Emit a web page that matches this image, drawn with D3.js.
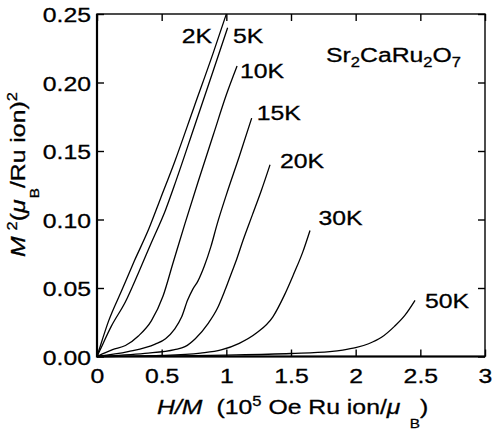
<!DOCTYPE html>
<html>
<head>
<meta charset="utf-8">
<script src="https://cdn.jsdelivr.net/npm/d3@7"></script>
<style>
  body { margin: 0; background: #fff; }
  svg { display: block; font-family: "Liberation Sans", Arial, Helvetica, sans-serif; }
  text { stroke: #000; stroke-width: 0.3px; }
</style>
</head>
<body>
<svg id="chart" width="492" height="434"></svg>
<script>
// isotherm names
const temps = ['2K', '5K', '10K', '15K', '20K', '30K', '50K'];

// H/M (10^5 Oe Ru ion/muB) and M^2 (muB/Ru ion)^2
const hm2K = [0, 0.02, 0.09, 0.19, 0.29, 0.40, 0.49, 0.60, 0.75, 0.90, 1.0];
const m2_2K = [0, 0.006, 0.026, 0.048, 0.070, 0.093, 0.115, 0.142, 0.182, 0.222, 0.25];

const hm5K = [0, 0.02, 0.11, 0.22, 0.32, 0.42, 0.53, 0.61, 0.75, 0.90, 1.01];
const m2_5K = [0, 0.004, 0.022, 0.040, 0.061, 0.083, 0.107, 0.128, 0.167, 0.209, 0.240];

const hm10K = [0, 0.12, 0.22, 0.32, 0.42, 0.51, 0.59, 0.68, 0.78, 0.90, 1.0, 1.083];
const m2_10K = [0, 0.005, 0.008, 0.015, 0.026, 0.044, 0.069, 0.097, 0.127, 0.162, 0.191, 0.212];

const hm15K = [0, 0.24, 0.45, 0.53, 0.60, 0.655, 0.70, 0.74, 0.78, 0.83, 0.88, 0.93, 1.0, 1.1, 1.196];
const m2_15K = [0, 0.0035, 0.009, 0.013, 0.020, 0.029, 0.041, 0.049, 0.055, 0.066, 0.080, 0.097, 0.118, 0.146, 0.174];

const hm20K = [0, 0.37, 0.60, 0.68, 0.76, 0.86, 0.93, 0.99, 1.04, 1.08, 1.13, 1.2, 1.27, 1.338];
const m2_20K = [0, 0.0023, 0.005, 0.0072, 0.013, 0.0242, 0.035, 0.0485, 0.061, 0.071, 0.085, 0.103, 0.121, 0.140];

const hm30K = [0, 0.5, 0.8, 0.96, 1.1, 1.23, 1.36, 1.45, 1.52, 1.59, 1.647];
const m2_30K = [0, 0.0008, 0.0025, 0.0048, 0.0096, 0.0169, 0.029, 0.045, 0.060, 0.076, 0.092];

const hm50K = [0, 0.5, 1.0, 1.5, 1.8, 1.9, 2.0, 2.1, 2.2, 2.3, 2.38, 2.459];
const m2_50K = [0, 0.0003, 0.001, 0.0022, 0.0036, 0.0047, 0.0064, 0.0093, 0.0140, 0.0220, 0.030, 0.041];

const xTicks = [0, 0.5, 1, 1.5, 2, 2.5, 3];
const yTicks = [0, 0.05, 0.10, 0.15, 0.20, 0.25];

const hmSeries = [hm2K, hm5K, hm10K, hm15K, hm20K, hm30K, hm50K];
const m2Series = [m2_2K, m2_5K, m2_10K, m2_15K, m2_20K, m2_30K, m2_50K];

(function () {
  'use strict';

  const svg = d3.select('#chart');
  const left = 97, right = 485, top = 14, bottom = 356.5;
  const sx = 1.18; // the type in the figure is set wide

  const x = d3.scaleLinear().domain([0, 3]).range([left, right]);
  const y = d3.scaleLinear().domain([0, 0.25]).range([bottom, top]);

  // ticks point inward on all four sides
  const xAxis = svg.append('g')
    .attr('transform', `translate(0,${bottom})`)
    .call(d3.axisBottom(x).tickValues(xTicks).tickSize(-7).tickFormat(d => String(d)));
  const yAxis = svg.append('g')
    .attr('transform', `translate(${left},0)`)
    .call(d3.axisLeft(y).tickValues(yTicks).tickSize(-7).tickFormat(d3.format('.2f')));
  svg.append('g')
    .attr('transform', `translate(0,${top})`)
    .call(d3.axisTop(x).tickValues(xTicks).tickSize(-7).tickFormat(''));
  svg.append('g')
    .attr('transform', `translate(${right},0)`)
    .call(d3.axisRight(y).tickValues(yTicks).tickSize(-7).tickFormat(''));

  svg.selectAll('.domain').remove();
  svg.selectAll('.tick line').attr('stroke', '#000').attr('stroke-width', 1.4);

  xAxis.attr('font-size', 21).attr('font-family', null);
  xAxis.selectAll('text')
    .attr('y', null).attr('dy', null)
    .attr('fill', '#000')
    .attr('transform', `translate(0,26.5) scale(${sx},1)`);

  yAxis.attr('font-size', 21).attr('font-family', null);
  yAxis.selectAll('text')
    .attr('x', null).attr('dy', null)
    .attr('fill', '#000')
    .attr('transform', `translate(-6,7.5) scale(${sx},1)`);

  // frame
  svg.append('rect')
    .attr('x', left).attr('y', top)
    .attr('width', right - left).attr('height', bottom - top)
    .attr('fill', 'none').attr('stroke', '#000').attr('stroke-width', 1.4);
  svg.append('path')
    .attr('d', `M${left},${top}V${bottom}H${right}`)
    .attr('fill', 'none').attr('stroke', '#000').attr('stroke-width', 2.2);

  // isotherms
  const line = d3.line()
    .x(d => x(d[0]))
    .y(d => y(d[1]))
    .curve(d3.curveMonotoneX);

  svg.append('g')
    .selectAll('path')
    .data(temps.map((t, i) => d3.zip(hmSeries[i], m2Series[i])))
    .join('path')
    .attr('d', line)
    .attr('fill', 'none')
    .attr('stroke', '#000')
    .attr('stroke-width', 1.3);

  // temperature labels next to the curve ends (data coordinates)
  const labelAt = [[0.655, 0.229], [1.052, 0.229], [1.106, 0.203], [1.235, 0.1726],
    [1.415, 0.1376], [1.713, 0.096], [2.536, 0.0354]];
  svg.append('g')
    .selectAll('text')
    .data(temps)
    .join('text')
    .attr('transform', (d, i) => `translate(${x(labelAt[i][0])},${y(labelAt[i][1])}) scale(${sx},1)`)
    .attr('font-size', 21)
    .text(d => d);

  // compound name
  const formula = svg.append('text')
    .attr('transform', `translate(${x(1.771)},${y(0.215)}) scale(${sx},1)`)
    .attr('font-size', 21);
  [['Sr', 0, 21], ['2', 5, 14], ['CaRu', -5, 21], ['2', 5, 14], ['O', -5, 21], ['7', 5, 14]]
    .forEach(([s, dy, fs]) => formula.append('tspan').attr('dy', dy).attr('font-size', fs).text(s));

  // x axis title
  const xt = svg.append('text')
    .attr('transform', `translate(157,414) scale(${sx},1)`)
    .attr('font-size', 21);
  xt.append('tspan').attr('font-style', 'italic').text('H/M');
  xt.append('tspan').attr('dx', 12).text('(10');
  xt.append('tspan').attr('font-size', 14).attr('dy', -8).text('5');
  xt.append('tspan').attr('dy', 8).text(' Oe Ru ion/');
  xt.append('tspan').attr('font-style', 'italic').text('μ');
  xt.append('tspan').attr('font-size', 13).attr('dx', 8).attr('dy', 14).text('B');
  xt.append('tspan').attr('dy', -14).text(')');

  // y axis title
  const yt = svg.append('text')
    .attr('transform', `translate(25,257) rotate(-90) scale(${sx},1)`)
    .attr('font-size', 21);
  yt.append('tspan').attr('font-style', 'italic').text('M');
  yt.append('tspan').attr('font-size', 14).attr('dx', 5).attr('dy', -8).text('2');
  yt.append('tspan').attr('dy', 8).text('(');
  yt.append('tspan').attr('font-style', 'italic').text('μ');
  yt.append('tspan').attr('font-size', 13).attr('dx', 1).attr('dy', 14).text('B');
  yt.append('tspan').attr('dx', 0).attr('dy', -14).text('/Ru ion)');
  yt.append('tspan').attr('font-size', 14).attr('dy', -8).text('2');
})();
</script>
</body>
</html>
